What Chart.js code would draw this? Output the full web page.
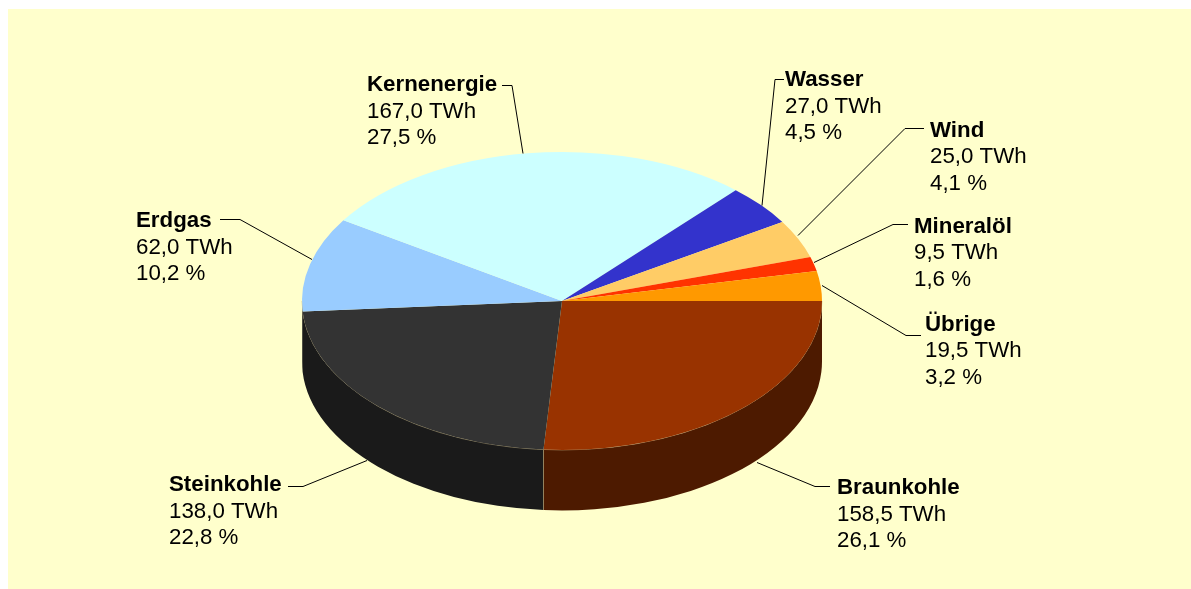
<!DOCTYPE html>
<html>
<head>
<meta charset="utf-8">
<style>html,body{margin:0;padding:0;background:#fff}canvas{display:block}#w{width:1191px;height:589px;position:relative}</style>
<script src="https://cdn.jsdelivr.net/npm/chart.js@4/dist/chart.umd.min.js"></script>
</head>
<body>
<div id="w"><canvas id="c" width="1191" height="589"></canvas></div>
<script>
const categories = ['Braunkohle','Steinkohle','Erdgas','Kernenergie','Wasser','Wind','Mineralöl','Übrige'];
const twh = [158.5,138.0,62.0,167.0,27.0,25.0,9.5,19.5];
const twhLabels = ['158,5 TWh','138,0 TWh','62,0 TWh','167,0 TWh','27,0 TWh','25,0 TWh','9,5 TWh','19,5 TWh'];
const pctLabels = ['26,1 %','22,8 %','10,2 %','27,5 %','4,5 %','4,1 %','1,6 %','3,2 %'];
const colors = ['#993300','#333333','#99CCFF','#CCFFFF','#3333CC','#FFCC66','#FF3300','#FF9900'];
const wallColors = ['#4D1A00','#1A1A1A','#1A1A1A','#668080','#1A1A66','#806633','#801A00','#804D00'];

// label placement: text x, first baseline y
const labelPos = [[837,494],[169,491],[136,227],[367,91],[785,86],[930,136.5],[914,232.5],[925,330.5]];
// leader polylines
const leaders = [
 [[757,462],[815,486],[830,486]],
 [[367,460],[303,486],[288,486]],
 [[312,259],[240,219],[220,219]],
 [[523,153],[512,85],[502,85]],
 [[762,205],[775,79],[784,79]],
 [[798,235],[905,128],[924,128]],
 [[814,262],[893,224],[908,224]],
 [[822,285],[906,335],[921,335]]
];
const squash = 149/260, depth = 60.5;
const seam = 'rgba(190,170,120,0.55)';

const pie3d = {
  id:'pie3d',
  beforeDraw(chart){
    const g = chart.ctx;
    g.save();
    g.fillStyle = '#FFFFCC';
    g.fillRect(8,9,chart.width-8,chart.height-9);
    g.restore();
  },
  beforeDatasetsDraw(chart){
    const g = chart.ctx, arcs = chart.getDatasetMeta(0).data;
    const x = arcs[0].x, y = arcs[0].y, r = arcs[0].outerRadius, ry = r*squash;
    const norm = a => { const t = 2*Math.PI; let v = ((a%t)+t)%t; return v > t-0.001 ? 0 : v; };
    g.save();
    arcs.forEach((a,i)=>{
      const s = norm(a.startAngle), e = s + (a.endAngle - a.startAngle);
      const a0 = Math.max(s,0), a1 = Math.min(e,Math.PI);
      if (a1 <= a0) return;
      g.beginPath();
      g.ellipse(x,y,r,ry,0,a0,a1,false);
      g.ellipse(x,y+depth,r,ry,0,a1,a0,true);
      g.closePath();
      g.fillStyle = wallColors[i];
      g.fill();
    });
    // seam between side walls
    arcs.forEach((a,i)=>{
      const s = norm(a.startAngle);
      if (s > 0.2 && s < Math.PI-0.2){
        const px = x + r*Math.cos(s), py = y + ry*Math.sin(s);
        g.beginPath(); g.moveTo(Math.round(px)+0.5,py); g.lineTo(Math.round(px)+0.5,py+depth);
        g.strokeStyle = seam; g.lineWidth = 1; g.stroke();
      }
    });
    // rim of the lower half of the top face
    g.beginPath(); g.ellipse(x,y,r,ry,0,0,Math.PI,false);
    g.strokeStyle = seam; g.lineWidth = 1; g.stroke();
    g.restore();
    g.save();
    g.translate(x,y); g.scale(1,squash); g.translate(-x,-y);
  },
  afterDatasetsDraw(chart){
    const g = chart.ctx;
    g.restore();
    g.save();
    g.strokeStyle = '#000'; g.lineWidth = 1;
    leaders.forEach(p=>{
      g.beginPath();
      p.forEach((q,i)=> i ? g.lineTo(q[0],q[1]+0.5) : g.moveTo(q[0],q[1]+0.5));
      g.stroke();
    });
    g.fillStyle = '#000'; g.textBaseline = 'alphabetic'; g.textAlign = 'left';
    categories.forEach((n,i)=>{
      const [tx,ty] = labelPos[i];
      g.font = 'bold 22.3px "Liberation Sans", Arial, sans-serif';
      g.fillText(n,tx,ty);
      g.font = '22.3px "Liberation Sans", Arial, sans-serif';
      g.fillText(twhLabels[i],tx,ty+26.6);
      g.fillText(pctLabels[i],tx,ty+53.2);
    });
    g.restore();
  }
};

new Chart(document.getElementById('c'),{
  type:'pie',
  data:{labels:categories,datasets:[{data:twh,backgroundColor:colors,borderWidth:0,clip:false}]},
  options:{
    responsive:false,animation:false,rotation:90,events:[],
    layout:{padding:{left:302,right:369,top:41,bottom:28}},
    plugins:{legend:{display:false},tooltip:{enabled:false}}
  },
  plugins:[pie3d]
});
</script>
</body>
</html>
